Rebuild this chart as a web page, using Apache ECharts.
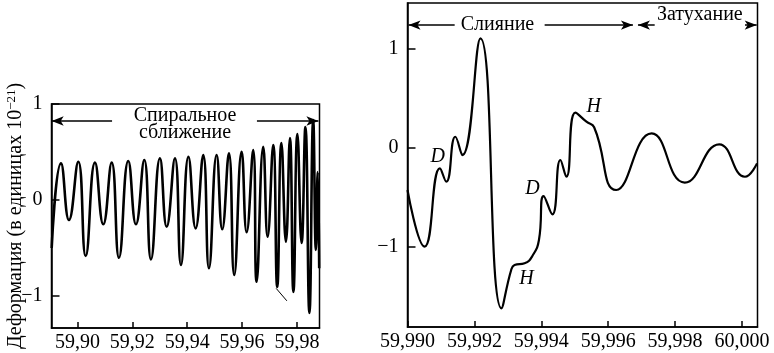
<!DOCTYPE html>
<html>
<head>
<meta charset="utf-8">
<script src="https://cdn.jsdelivr.net/npm/echarts@6/dist/echarts.min.js"></script>
<style>
  html, body { margin: 0; padding: 0; background: #fff; }
  #chart { width: 774px; height: 353px; }
</style>
</head>
<body>
<div id="chart"></div>
<script>
// Inspiral part (left panel): time in s, strain in 1e-21
const leftX = [59.8906, 59.89399, 59.89690, 59.90029, 59.90299, 59.90638, 59.90940, 59.91246, 59.91512,
  59.91851, 59.92131, 59.92434, 59.92678, 59.93005, 59.93250, 59.93552, 59.93771, 59.94044, 59.94306,
  59.94583, 59.94791, 59.95071, 59.95275, 59.95519, 59.95712, 59.95982, 59.96164, 59.96404, 59.96528,
  59.96769, 59.96929, 59.97133, 59.97279, 59.97432, 59.97596, 59.97742, 59.97869, 59.98015, 59.98168,
  59.98306, 59.98452, 59.98590, 59.98689, 59.98754, 59.98809];
const leftY = [-0.5, 0.382, -0.208, 0.399, -0.583, 0.389, -0.253, 0.389, -0.601,
  0.406, -0.253, 0.417, -0.618, 0.434, -0.278, 0.434, -0.677, 0.451, -0.295,
  0.469, -0.711, 0.469, -0.305, 0.486, -0.781, 0.503, -0.336, 0.521, -0.851,
  0.555, -0.382, 0.573, -0.906, 0.594, -0.434, 0.646, -0.958, 0.688, -0.448,
  0.760, -1.177, 0.833, -0.52, 0.29, -0.71];

// Merger + ringdown (right panel)
const rightX = [59.99000, 59.99051, 59.99097, 59.99116, 59.99143, 59.99164, 59.99218, 59.99281,
  59.99310, 59.99320, 59.99350, 59.99375, 59.99393, 59.99407, 59.99433, 59.99457, 59.99475,
  59.99502, 59.99535, 59.99558, 59.99624, 59.99730, 59.99829, 59.99932, 60.00009, 60.00045];
const rightY = [-0.424, -0.997, -0.205, -0.340, 0.114, -0.071, 1.108, -1.619,
  -1.232, -1.182, -1.165, -1.081, -0.929, -0.485, -0.670, -0.121, -0.29,
  0.357, 0.266, 0.21, -0.424, 0.148, -0.350, 0.037, -0.290, -0.155];

const leftXTicks = [59.90, 59.92, 59.94, 59.96, 59.98];
const rightXTicks = [59.990, 59.992, 59.994, 59.996, 59.998, 60.000];
const yTicks = [-1, 0, 1];

const FONT = 'Liberation Serif';

const chart = echarts.init(document.getElementById('chart'));

function xAxisOf(gridIndex, min, max, ticks, digits) {
  return {
    type: 'value', gridIndex: gridIndex, min: min, max: max,
    axisLine: { show: true, onZero: false, lineStyle: { color: '#000', width: 1.5 } },
    axisTick: { show: true, inside: true, length: 6, customValues: ticks, lineStyle: { color: '#000', width: 1.5 } },
    axisLabel: {
      customValues: ticks, margin: 5, color: '#000', fontFamily: FONT, fontSize: 20,
      formatter: v => v.toFixed(digits).replace('.', ',')
    },
    splitLine: { show: false }
  };
}

function yAxisOf(gridIndex, min, max) {
  return {
    type: 'value', gridIndex: gridIndex, min: min, max: max,
    axisLine: { show: true, onZero: false, lineStyle: { color: '#000', width: 1.5 } },
    axisTick: { show: true, inside: true, length: 8, customValues: yTicks, lineStyle: { color: '#000', width: 1.5 } },
    axisLabel: {
      customValues: yTicks, margin: 9, color: '#000', fontFamily: FONT, fontSize: 20,
      formatter: v => (v < 0 ? '\u2212' + Math.abs(v) : String(v))
    },
    splitLine: { show: false }
  };
}

const arrowLine = { color: '#000', width: 1.5, type: 'solid' };

function arrow(from, to) {
  return [{ coord: from, symbol: 'none' }, { coord: to, symbol: 'arrow', symbolSize: [7, 12] }];
}

function textMark(name, coord, extra) {
  return {
    name: name, coord: coord,
    label: Object.assign({ show: true, position: 'inside', formatter: '{b}', color: '#000',
      fontFamily: FONT, fontSize: 20 }, extra || {})
  };
}

const leftGrid = { left: 51.5, top: 104, width: 268, height: 224 };
const rightGrid = { left: 407.5, top: 3, width: 350, height: 324 };

const leftYAxis = yAxisOf(0, -1.333, 1.0);
leftYAxis.name = 'Деформация (в единицах 10{sup|\u221221})';
leftYAxis.nameLocation = 'middle';
leftYAxis.nameRotate = 90;
leftYAxis.nameGap = 26;
leftYAxis.nameMoveOverlap = false;
leftYAxis.nameTextStyle = {
  color: '#000', fontFamily: FONT, fontSize: 20,
  rich: { sup: { fontFamily: FONT, fontSize: 13, verticalAlign: 'top', color: '#000' } }
};

const option = {
  animation: false,
  backgroundColor: '#fff',
  grid: [
    Object.assign({ show: true, borderColor: '#000', borderWidth: 1.5, backgroundColor: 'transparent' }, leftGrid),
    Object.assign({ show: true, borderColor: '#000', borderWidth: 1.5, backgroundColor: 'transparent' }, rightGrid)
  ],
  xAxis: [
    xAxisOf(0, 59.89053, 59.98820, leftXTicks, 2),
    xAxisOf(1, 59.990, 60.000464, rightXTicks, 3)
  ],
  yAxis: [
    leftYAxis,
    yAxisOf(1, -1.808, 1.465)
  ],
  series: [
    {
      name: 'Спиральное сближение',
      type: 'line', xAxisIndex: 0, yAxisIndex: 0,
      data: leftX.map((x, i) => [x, leftY[i]]),
      showSymbol: false, smooth: 0.5,
      lineStyle: { color: '#000', width: 2.6 },
      markLine: {
        silent: true, animation: false, label: { show: false }, lineStyle: arrowLine,
        data: [
          arrow([59.9126, 0.823], [59.8906, 0.823]),
          arrow([59.9654, 0.823], [59.9878, 0.823]),
          [{ coord: [59.9724, -0.92], symbol: 'none', lineStyle: { width: 1 } },
           { coord: [59.9763, -1.05], symbol: 'none' }]
        ]
      },
      markPoint: {
        silent: true, animation: false, symbol: 'circle', symbolSize: 0,
        data: [
          textMark('Спиральное\nсближение', [59.9392, 0.79], { lineHeight: 17 })
        ]
      }
    },
    {
      name: 'Слияние и затухание',
      type: 'line', xAxisIndex: 1, yAxisIndex: 1,
      data: rightX.map((x, i) => [x, rightY[i]]),
      showSymbol: false, smooth: 0.5,
      lineStyle: { color: '#000', width: 2.2 },
      markLine: {
        silent: true, animation: false, label: { show: false }, lineStyle: arrowLine,
        data: [
          arrow([59.99141, 1.242], [59.99003, 1.242]),
          arrow([59.99410, 1.242], [59.99674, 1.242]),
          arrow([59.99739, 1.242], [59.99689, 1.242]),
          arrow([60.00009, 1.242], [60.00044, 1.242])
        ]
      },
      markPoint: {
        silent: true, animation: false, symbol: 'circle', symbolSize: 0,
        data: [
          textMark('Слияние', [59.99269, 1.242]),
          textMark('Затухание', [59.99874, 1.343]),
          textMark('D', [59.99090, -0.091], { fontStyle: 'italic' }),
          textMark('D', [59.99374, -0.414], { fontStyle: 'italic' }),
          textMark('H', [59.99356, -1.323], { fontStyle: 'italic' }),
          textMark('H', [59.99557, 0.414], { fontStyle: 'italic' })
        ]
      }
    }
  ]
};

chart.setOption(option);
</script>
</body>
</html>
